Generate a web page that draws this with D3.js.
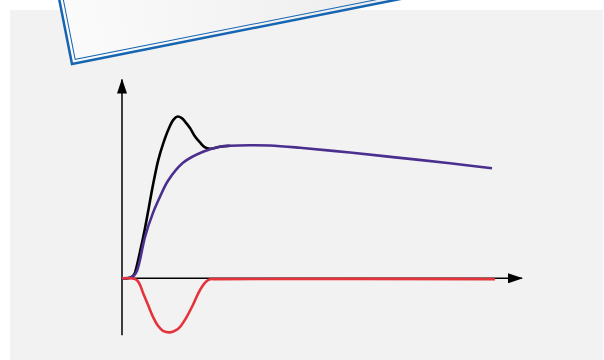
<!DOCTYPE html>
<html>
<head>
<meta charset="utf-8">
<script src="https://cdn.jsdelivr.net/npm/d3@7"></script>
<style>
  html, body { margin: 0; padding: 0; background: #fff; }
  svg { display: block; }
</style>
</head>
<body>
<script>
(function(){

//curve values, x in time units, y relative to the steady level
var purpleX = [0, 0.2, 0.3, 0.375, 0.45, 0.575, 0.775, 0.95, 1.15, 1.525, 2.025, 2.45, 2.7, 3.2, 3.7, 4.45, 5.7, 6.95, 8.2, 9.25];
var purpleY = [0, 0.004, 0.02, 0.057, 0.14, 0.313, 0.494, 0.615, 0.736, 0.872, 0.955, 0.993, 1.0, 1.004, 1.002, 0.985, 0.949, 0.909, 0.868, 0.83];

var blackX = [0, 0.2, 0.3, 0.375, 0.45, 0.55, 0.8, 0.908, 1.033, 1.158, 1.283, 1.393, 1.493, 1.575, 1.7, 1.825, 1.95, 2.075, 2.2, 2.45, 2.7];
var blackY = [0, 0.004, 0.026, 0.1, 0.2, 0.34, 0.743, 0.894, 1.02, 1.121, 1.196, 1.221, 1.209, 1.183, 1.134, 1.07, 1.025, 0.988, 0.978, 0.993, 1.0];

var redX = [0, 0.2, 0.3, 0.375, 0.45, 0.525, 0.65, 0.775, 0.9, 1.025, 1.2, 1.35, 1.45, 1.6, 1.775, 1.9, 2.0, 2.1, 2.2, 2.35, 9.325];
var redY = [0, 0, -0.004, -0.015, -0.049, -0.109, -0.2, -0.291, -0.358, -0.396, -0.408, -0.392, -0.366, -0.3, -0.2, -0.117, -0.064, -0.026, -0.008, -0.006, -0.006];

var width = 604,
    height = 360;

var svg = d3.select("body")
    .append("svg")
    .attr("width", width)
    .attr("height", height);

var defs = svg.append("defs");

//arrow heads for the axes
defs.append("marker")
    .attr("id", "arrow")
    .attr("viewBox", "0 0 15 10")
    .attr("refX", 14)
    .attr("refY", 5)
    .attr("markerWidth", 15)
    .attr("markerHeight", 10)
    .attr("markerUnits", "userSpaceOnUse")
    .attr("orient", "auto")
    .append("path")
    .attr("d", "M0,0 L15,5 L0,10 Z")
    .attr("fill", "#000");

//light gradient for the tilted card
var grad = defs.append("linearGradient")
    .attr("id", "cardFill")
    .attr("x1", "0%").attr("x2", "100%")
    .attr("y1", "0%").attr("y2", "0%");
grad.append("stop").attr("offset", "0%").attr("stop-color", "#fbfbfb");
grad.append("stop").attr("offset", "100%").attr("stop-color", "#e8e8e8");

//gray panel
svg.append("rect")
    .attr("x", 10)
    .attr("y", 10)
    .attr("width", 593)
    .attr("height", 350)
    .attr("fill", "#f2f2f2");

//tilted card with double blue frame
var card = svg.append("g")
    .attr("transform", "translate(72,64) rotate(-11.2)");

card.append("rect")
    .attr("x", 0)
    .attr("y", -300)
    .attr("width", 440)
    .attr("height", 300)
    .attr("fill", "url(#cardFill)")
    .attr("stroke", "#1565b3")
    .attr("stroke-width", 2.5);

card.append("rect")
    .attr("x", 4)
    .attr("y", -296)
    .attr("width", 432)
    .attr("height", 292)
    .attr("fill", "none")
    .attr("stroke", "#1565b3")
    .attr("stroke-width", 1);

//scales
var xScale = d3.scaleLinear()
    .domain([0, 10])
    .range([122, 522]);

var yScale = d3.scaleLinear()
    .domain([0, 1.5])
    .range([278.3, 79.55]);

//axes
svg.append("line")
    .attr("x1", xScale(0))
    .attr("y1", yScale(-0.43))
    .attr("x2", xScale(0))
    .attr("y2", yScale(1.5))
    .attr("stroke", "#000")
    .attr("stroke-width", 1.5)
    .attr("marker-end", "url(#arrow)");

svg.append("line")
    .attr("x1", xScale(0))
    .attr("y1", yScale(0))
    .attr("x2", xScale(10))
    .attr("y2", yScale(0))
    .attr("stroke", "#000")
    .attr("stroke-width", 1.5)
    .attr("marker-end", "url(#arrow)");

var line = d3.line()
    .x(function(d){ return xScale(d[0]); })
    .y(function(d){ return yScale(d[1]); })
    .curve(d3.curveCatmullRom.alpha(0.5));

function pairs(xs, ys){
    return xs.map(function(x, i){ return [x, ys[i]]; });
}

var series = [
    {name: "black", color: "#000000", data: pairs(blackX, blackY)},
    {name: "purple", color: "#4a2f8f", data: pairs(purpleX, purpleY)},
    {name: "red", color: "#e5333b", data: pairs(redX, redY)}
];

svg.selectAll(".curve")
    .data(series)
    .enter()
    .append("path")
    .attr("class", function(d){ return "curve " + d.name; })
    .attr("d", function(d){ return line(d.data); })
    .attr("fill", "none")
    .attr("stroke", function(d){ return d.color; })
    .attr("stroke-width", 2.6)
    .attr("stroke-linecap", "butt");

})();
</script>
</body>
</html>
